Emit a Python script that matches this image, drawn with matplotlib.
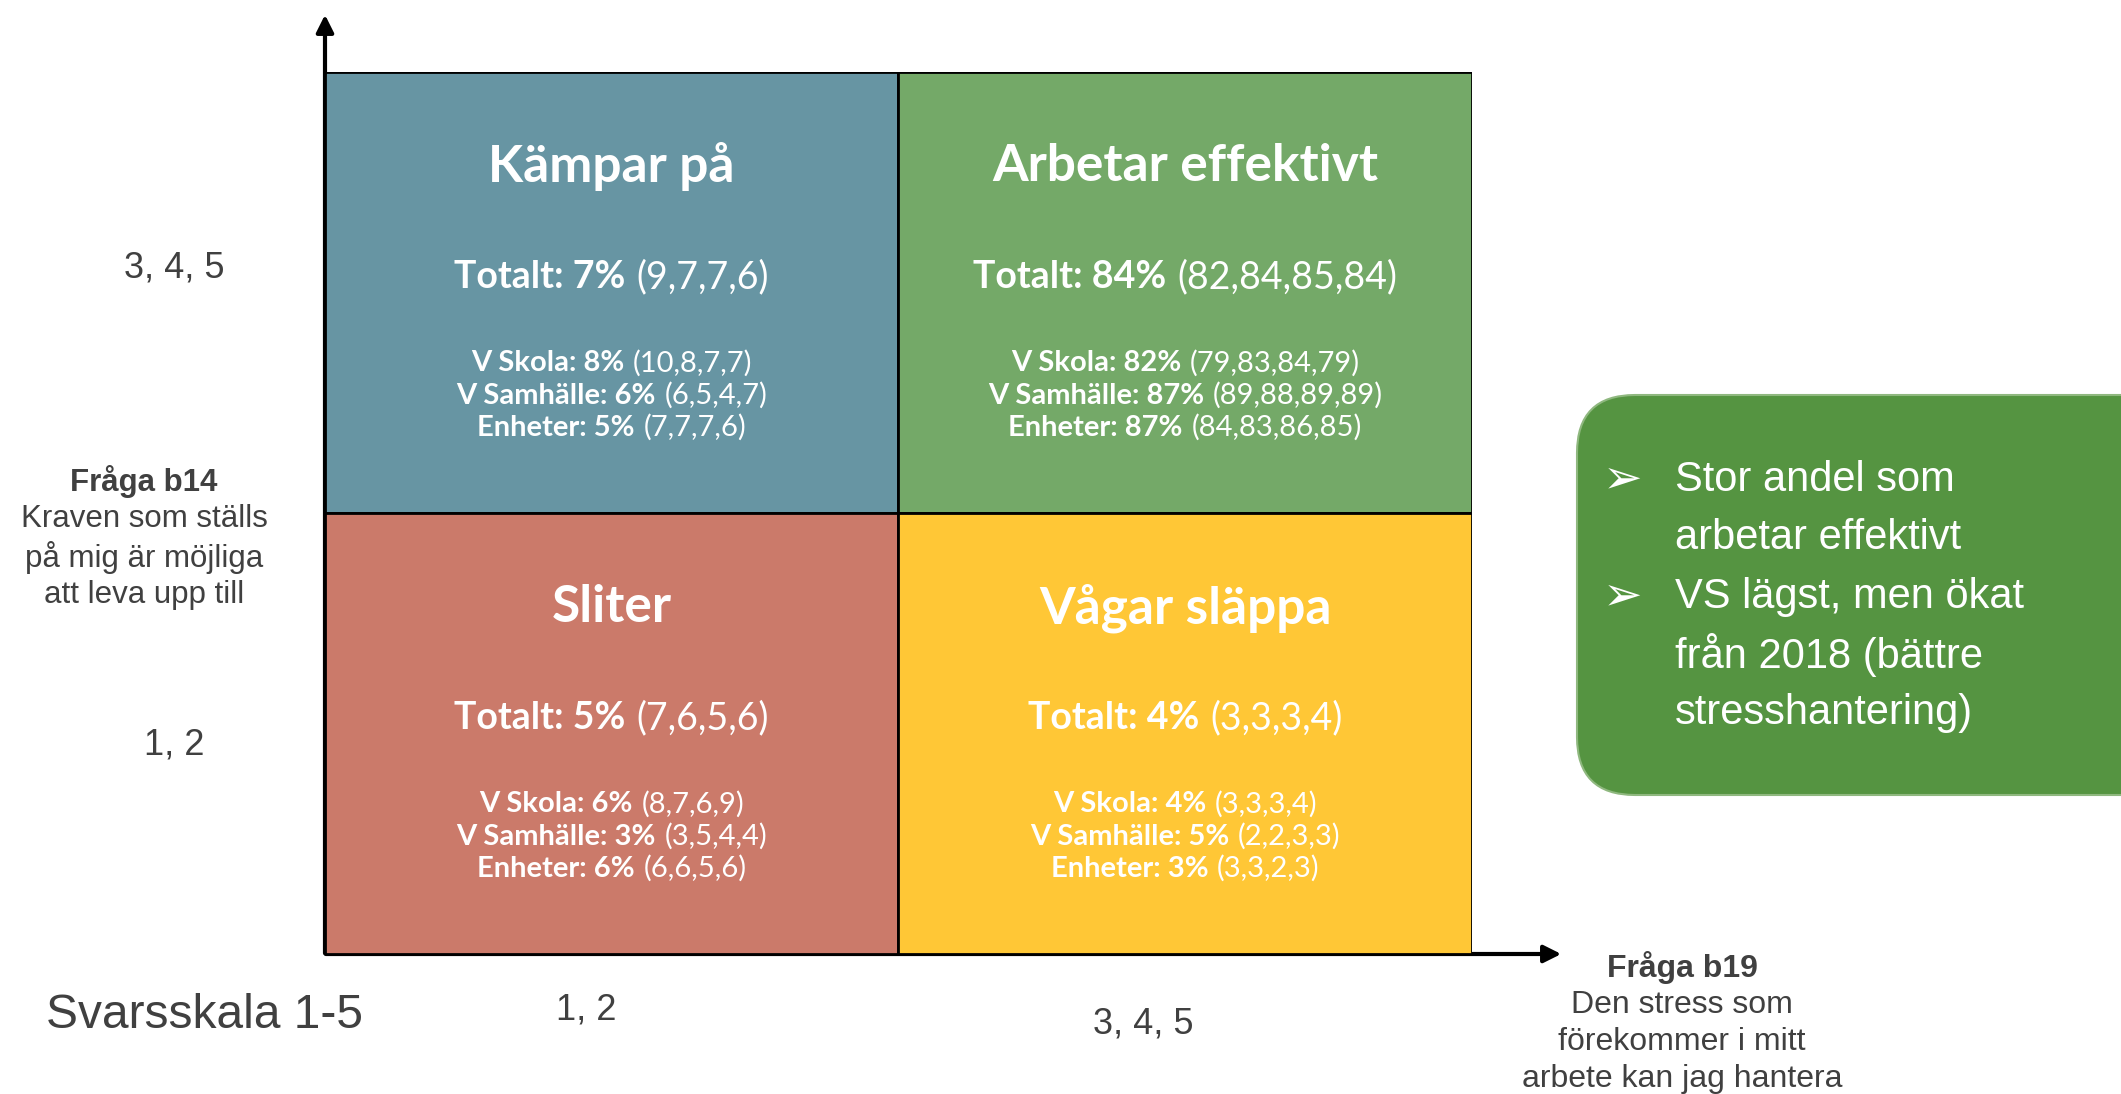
import matplotlib.pyplot as plt
from matplotlib.offsetbox import TextArea, HPacker, AnnotationBbox
from matplotlib.patches import FancyBboxPatch

W, H = 2121, 1094

# levels on the two answer scales
b19_levels = ["1, 2", "3, 4, 5"]
b14_levels = ["1, 2", "3, 4, 5"]

# quadrants
quadrants = ["Kämpar på", "Arbetar effektivt", "Sliter", "Vågar släppa"]
quad_b19 = ["1, 2", "3, 4, 5", "1, 2", "3, 4, 5"]
quad_b14 = ["3, 4, 5", "3, 4, 5", "1, 2", "1, 2"]
quad_colors = ["#6795a3", "#74a968", "#cb7a6a", "#ffc736"]

totalt = [7, 84, 5, 4]
totalt_hist = [[9, 7, 7, 6], [82, 84, 85, 84], [7, 6, 5, 6], [3, 3, 3, 4]]

groups = ["V Skola", "V Samhälle", "Enheter"]
group_vals = [[8, 6, 5], [82, 87, 87], [6, 3, 6], [4, 5, 3]]
group_hist = [
    [[10, 8, 7, 7], [6, 5, 4, 7], [7, 7, 7, 6]],
    [[79, 83, 84, 79], [89, 88, 89, 89], [84, 83, 86, 85]],
    [[8, 7, 6, 9], [3, 5, 4, 4], [6, 6, 5, 6]],
    [[3, 3, 3, 4], [2, 2, 3, 3], [3, 3, 2, 3]],
]

y_question = ["Fråga b14", "Kraven som ställs", "på mig är möjliga", "att leva upp till"]
x_question = ["Fråga b19", "Den stress som", "förekommer i mitt", "arbete kan jag hantera"]
scale_label = "Svarsskala 1-5"
callout_points = [["Stor andel som", "arbetar effektivt"],
                  ["VS lägst, men ökat", "från 2018 (bättre", "stresshantering)"]]

qfont = "Lato"
afont = ["Liberation Sans", "DejaVu Sans"]
grey = "#404040"

fig = plt.figure(figsize=(W / 100, H / 100), dpi=100)

# overlay in pixel coordinates for the labels and arrows
ov = fig.add_axes([0, 0, 1, 1])
ov.set_xlim(0, W)
ov.set_ylim(H, 0)
ov.axis("off")

# quadrant grid
ax = fig.add_axes([325 / W, 1 - 954 / H, (1472 - 325) / W, (954 - 72) / H])
xi = [b19_levels.index(v) for v in quad_b19]
yi = [b14_levels.index(v) for v in quad_b14]
ax.bar(xi, 1, width=1, bottom=yi, align="edge", color=quad_colors,
       edgecolor="black", linewidth=2)
ax.set_xlim(0, 2)
ax.set_ylim(0, 2)
ax.axis("off")


def mixed(bold, light, size, x, y):
    a = TextArea(bold, textprops=dict(family=qfont, weight="bold", size=size, color="white"))
    b = TextArea(light, textprops=dict(family=qfont, weight="normal", size=size, color="white"))
    box = HPacker(children=[a, b], align="baseline", pad=0, sep=size * 0.3)
    ab = AnnotationBbox(box, (x, y), xycoords="data", frameon=False,
                        box_alignment=(0.5, 0.5))
    ax.add_artist(ab)


for i, name in enumerate(quadrants):
    cx = xi[i] + 0.5
    top = yi[i] + 1
    ax.text(cx, top - 0.215, name, ha="center", va="center", family=qfont,
            weight="bold", size=37, color="white")
    hist = ",".join(str(v) for v in totalt_hist[i])
    mixed(f"Totalt: {totalt[i]}%", f"({hist})", 27, cx, top - 0.465)
    for j, g in enumerate(groups):
        hist = ",".join(str(v) for v in group_hist[i][j])
        mixed(f"{g}: {group_vals[i][j]}%", f"({hist})", 21, cx, top - 0.66 - 0.073 * j)

# axis arrows
ov.annotate("", xy=(325, 12), xytext=(325, 956),
            arrowprops=dict(arrowstyle="-|>", lw=3, color="black", mutation_scale=26))
ov.annotate("", xy=(1564, 954), xytext=(323, 954),
            arrowprops=dict(arrowstyle="-|>", lw=3, color="black", mutation_scale=26))

# level labels
ov.text(174, 268, b14_levels[1], ha="center", va="center", family=afont, size=26, color=grey)
ov.text(174, 745, b14_levels[0], ha="center", va="center", family=afont, size=26, color=grey)
ov.text(586, 1010, b19_levels[0], ha="center", va="center", family=afont, size=26, color=grey)
ov.text(1143, 1024, b19_levels[1], ha="center", va="center", family=afont, size=26, color=grey)
ov.text(205, 1015, scale_label, ha="center", va="center", family=afont, size=34.5, color=grey)

for k, line in enumerate(y_question):
    ov.text(144, 481 + 38 * k, line, ha="center", va="center", family=afont, size=22.5,
            color=grey, weight="bold" if k == 0 else "normal")
for k, line in enumerate(x_question):
    ov.text(1682, 968 + 37 * k, line, ha="center", va="center", family=afont, size=23,
            color=grey, weight="bold" if k == 0 else "normal")

# callout box
ov.add_patch(FancyBboxPatch((1577, 395), 700, 400,
                            boxstyle="round,pad=0,rounding_size=58",
                            fc="#559441", ec="#8fb87f", lw=1.5, clip_on=True))
row = 0
for pt in callout_points:
    ov.text(1603, 480 + 58.3 * row, "➢", ha="left", va="center", family=["DejaVu Sans"],
            size=34, color="white")
    for line in pt:
        ov.text(1675, 480 + 58.3 * row, line, ha="left", va="center", family=afont,
                size=30, color="white")
        row += 1

fig.savefig("out.png", dpi=100)
